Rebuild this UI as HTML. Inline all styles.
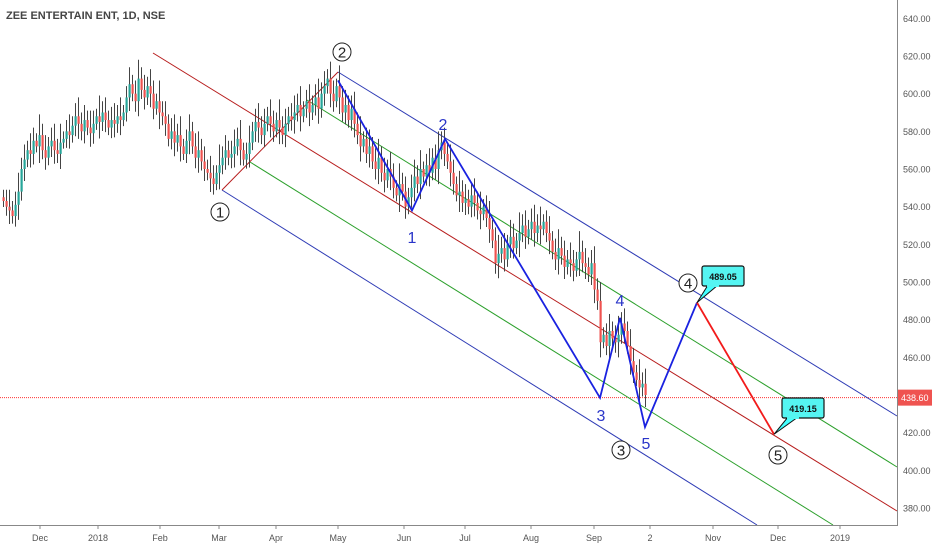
<!DOCTYPE html>
<html><head><meta charset="utf-8"><style>
body{margin:0;background:#fff;width:932px;height:550px;overflow:hidden;font-family:"Liberation Sans",sans-serif}
svg{display:block}
</style></head><body>
<svg id="chart" width="932" height="550">
<rect x="0" y="0" width="932" height="550" fill="#fff"/>
<g id="grid"></g>
<g id="overlays"></g>
<g id="candles"></g>
<g id="annot"></g>
<g id="axes"></g>
</svg>
<script>
// ---- data ----
const closes = [543,540,538,535,541,548,560,565,570,568,575,572,578,570,566,572,575,570,568,574,
576,580,578,583,588,584,580,586,582,579,584,588,585,590,586,582,586,584,588,586,
590,598,605,600,596,608,602,598,604,600,592,596,590,588,584,576,580,574,578,572,
568,575,580,572,566,570,564,560,558,555,552,558,562,566,570,566,568,572,576,570,
565,568,574,580,585,582,578,584,588,584,580,586,582,578,584,588,586,590,594,588,
592,596,590,594,598,592,600,604,608,600,596,604,598,590,594,586,592,584,578,572,
576,568,572,564,560,566,558,554,560,556,550,546,552,548,540,545,550,556,552,560,
556,562,558,566,560,570,574,568,564,558,552,546,548,542,544,540,546,542,538,536,
540,534,528,522,510,515,518,512,520,524,518,522,526,530,524,528,532,526,530,528,
532,526,522,516,512,518,514,508,512,510,506,512,516,510,508,504,510,496,490,468,
472,466,474,470,468,472,478,474,466,458,452,448,444,446,440];
const wicks = [4,6,9,5,7,10,6,8,5,9,7,4,11,6,8,5,7,9,6,10];
const priceTicks = [640,620,600,580,560,540,520,500,480,460,440,420,400,380];
const timeLabels = ["Dec","2018","Feb","Mar","Apr","May","Jun","Jul","Aug","Sep","2","Nov","Dec","2019"];
const timeLabelX = [40,98,160,219,276,338,404,465,531,594,650,713,778,840];
const lastPrice = 438.60;
const wavePts = [[338,607],[412,538],[445,576],[600,438.5],[620,481],[645,423],[697,489.05]];
const projPts = [[697,489.05],[774,419.15]];

// ---- scales ----
const y = p => 282 - (p-500)*1.8833;
const xBar = i => 3 + i*3;
const NS="http://www.w3.org/2000/svg";
function mk(t,a,parent){const e=document.createElementNS(NS,t);for(const k in a)e.setAttribute(k,a[k]);parent.appendChild(e);return e;}
const ov=document.getElementById('overlays'),cg=document.getElementById('candles'),an=document.getElementById('annot'),ax=document.getElementById('axes');

mk('line',{x1:897.5,y1:0,x2:897.5,y2:525,stroke:'#888','stroke-width':1},ax);
mk('line',{x1:0,y1:525.5,x2:898,y2:525.5,stroke:'#888','stroke-width':1},ax);
priceTicks.forEach(p=>{
  const t=mk('text',{x:903,y:y(p)+3.5,'font-size':9,fill:'#555'},ax);t.textContent=p.toFixed(2);
  
  
});
timeLabels.forEach((l,i)=>{
  const t=mk('text',{x:timeLabelX[i],y:541,'font-size':9,fill:'#555','text-anchor':'middle'},ax);t.textContent=l;
  
  
  mk('line',{x1:timeLabelX[i],y1:525,x2:timeLabelX[i],y2:529,stroke:'#888'},ax);
});
const title=mk('text',{x:6,y:19,'font-size':11,fill:'#444','font-weight':'bold'},ax);title.textContent='ZEE ENTERTAIN ENT, 1D, NSE';



mk('line',{x1:0,y1:y(lastPrice),x2:897,y2:y(lastPrice),stroke:'#f33','stroke-width':1,'stroke-dasharray':'1,1'},ov);
const lb=mk('rect',{x:898,y:y(lastPrice)-8,width:34,height:16,fill:'#ef5350'},ax);


const lt=mk('text',{x:901,y:y(lastPrice)+3.5,'font-size':9,fill:'#fff'},ax);lt.textContent=lastPrice.toFixed(2);

function L(x1,y1,x2,y2,c,w,name){const e=mk('line',{x1,y1,x2,y2,stroke:c,'stroke-width':w||1},ov);}
L(153,53,897,511,'#b71c1c',1,'pitchfork-median');
L(338,72,897,416,'#2e3bb5',1,'pitchfork-upper');
L(222,190,757,525,'#2e3bb5',1,'pitchfork-lower');
L(307,100,897,467,'#2ca02c',1,'pitchfork-upper-mid');
L(250,162,833,525,'#2ca02c',1,'pitchfork-lower-mid');
L(222,190,338,72,'#b71c1c',1,'pitchfork-handle');

closes.forEach((c,i)=>{
  const o=i?closes[i-1]:c+2, x=xBar(i);
  const wk=wicks[i%wicks.length];
  const hi=Math.max(o,c)+wk, lo=Math.min(o,c)-wk*0.8;
  const up=c>=o;
  const w=mk('line',{x1:x+0.5,y1:y(hi),x2:x+0.5,y2:y(lo),stroke:'#444','stroke-width':1},cg);
  
  
  const r=mk('rect',{x:x-0.5,y:y(Math.max(o,c)),width:2.2,height:Math.max(1,Math.abs(y(o)-y(c))),fill:up?'#26a69a':'#ef5350'},cg);
  
  
});

const pw=mk('polyline',{points:wavePts.map(p=>p[0]+','+y(p[1])).join(' '),fill:'none',stroke:'#1a22e0','stroke-width':1.8},an);


const pp=mk('polyline',{points:projPts.map(p=>p[0]+','+y(p[1])).join(' '),fill:'none',stroke:'#f21b1b','stroke-width':1.8},an);



function circ(cx,cy,n){mk('circle',{cx,cy,r:9,fill:'#fff',stroke:'#222','stroke-width':1},an);const t=mk('text',{x:cx,y:cy+5.5,'font-size':15,'text-anchor':'middle',fill:'#222'},an);t.textContent=n;}
circ(220,212,'1');circ(342,52,'2');circ(621,450,'3');circ(688,283,'4');circ(778,455,'5');
function bl(x,yy,n){const t=mk('text',{x,y:yy,'font-size':16,'text-anchor':'middle',fill:'#2a35c9'},an);t.textContent=n;}
bl(412,243,'1');bl(443,130,'2');bl(601,421,'3');bl(620,306,'4');bl(646,449,'5');

function callout(x,yy,tx,ty,txt){
  mk('polygon',{points:`${x+6},${yy+19} ${x+16},${yy+19} ${tx},${ty}`,fill:'#4ff',stroke:'#111','stroke-width':1},an);
  const r=mk('rect',{x,y:yy,width:42,height:20,rx:2,fill:'#55f5f2',stroke:'#111','stroke-width':1.2},an);
  
  
  mk('rect',{x:x+5,y:yy+18,width:12,height:3,fill:'#55f5f2'},an);
  const t=mk('text',{x:x+21,y:yy+14,'font-size':9,'font-weight':'bold','text-anchor':'middle',fill:'#111'},an);t.textContent=txt;
}
callout(702,266,697,y(489.05),'489.05');
callout(782,398,774,y(419.15),'419.15');
</script>
</body></html>
